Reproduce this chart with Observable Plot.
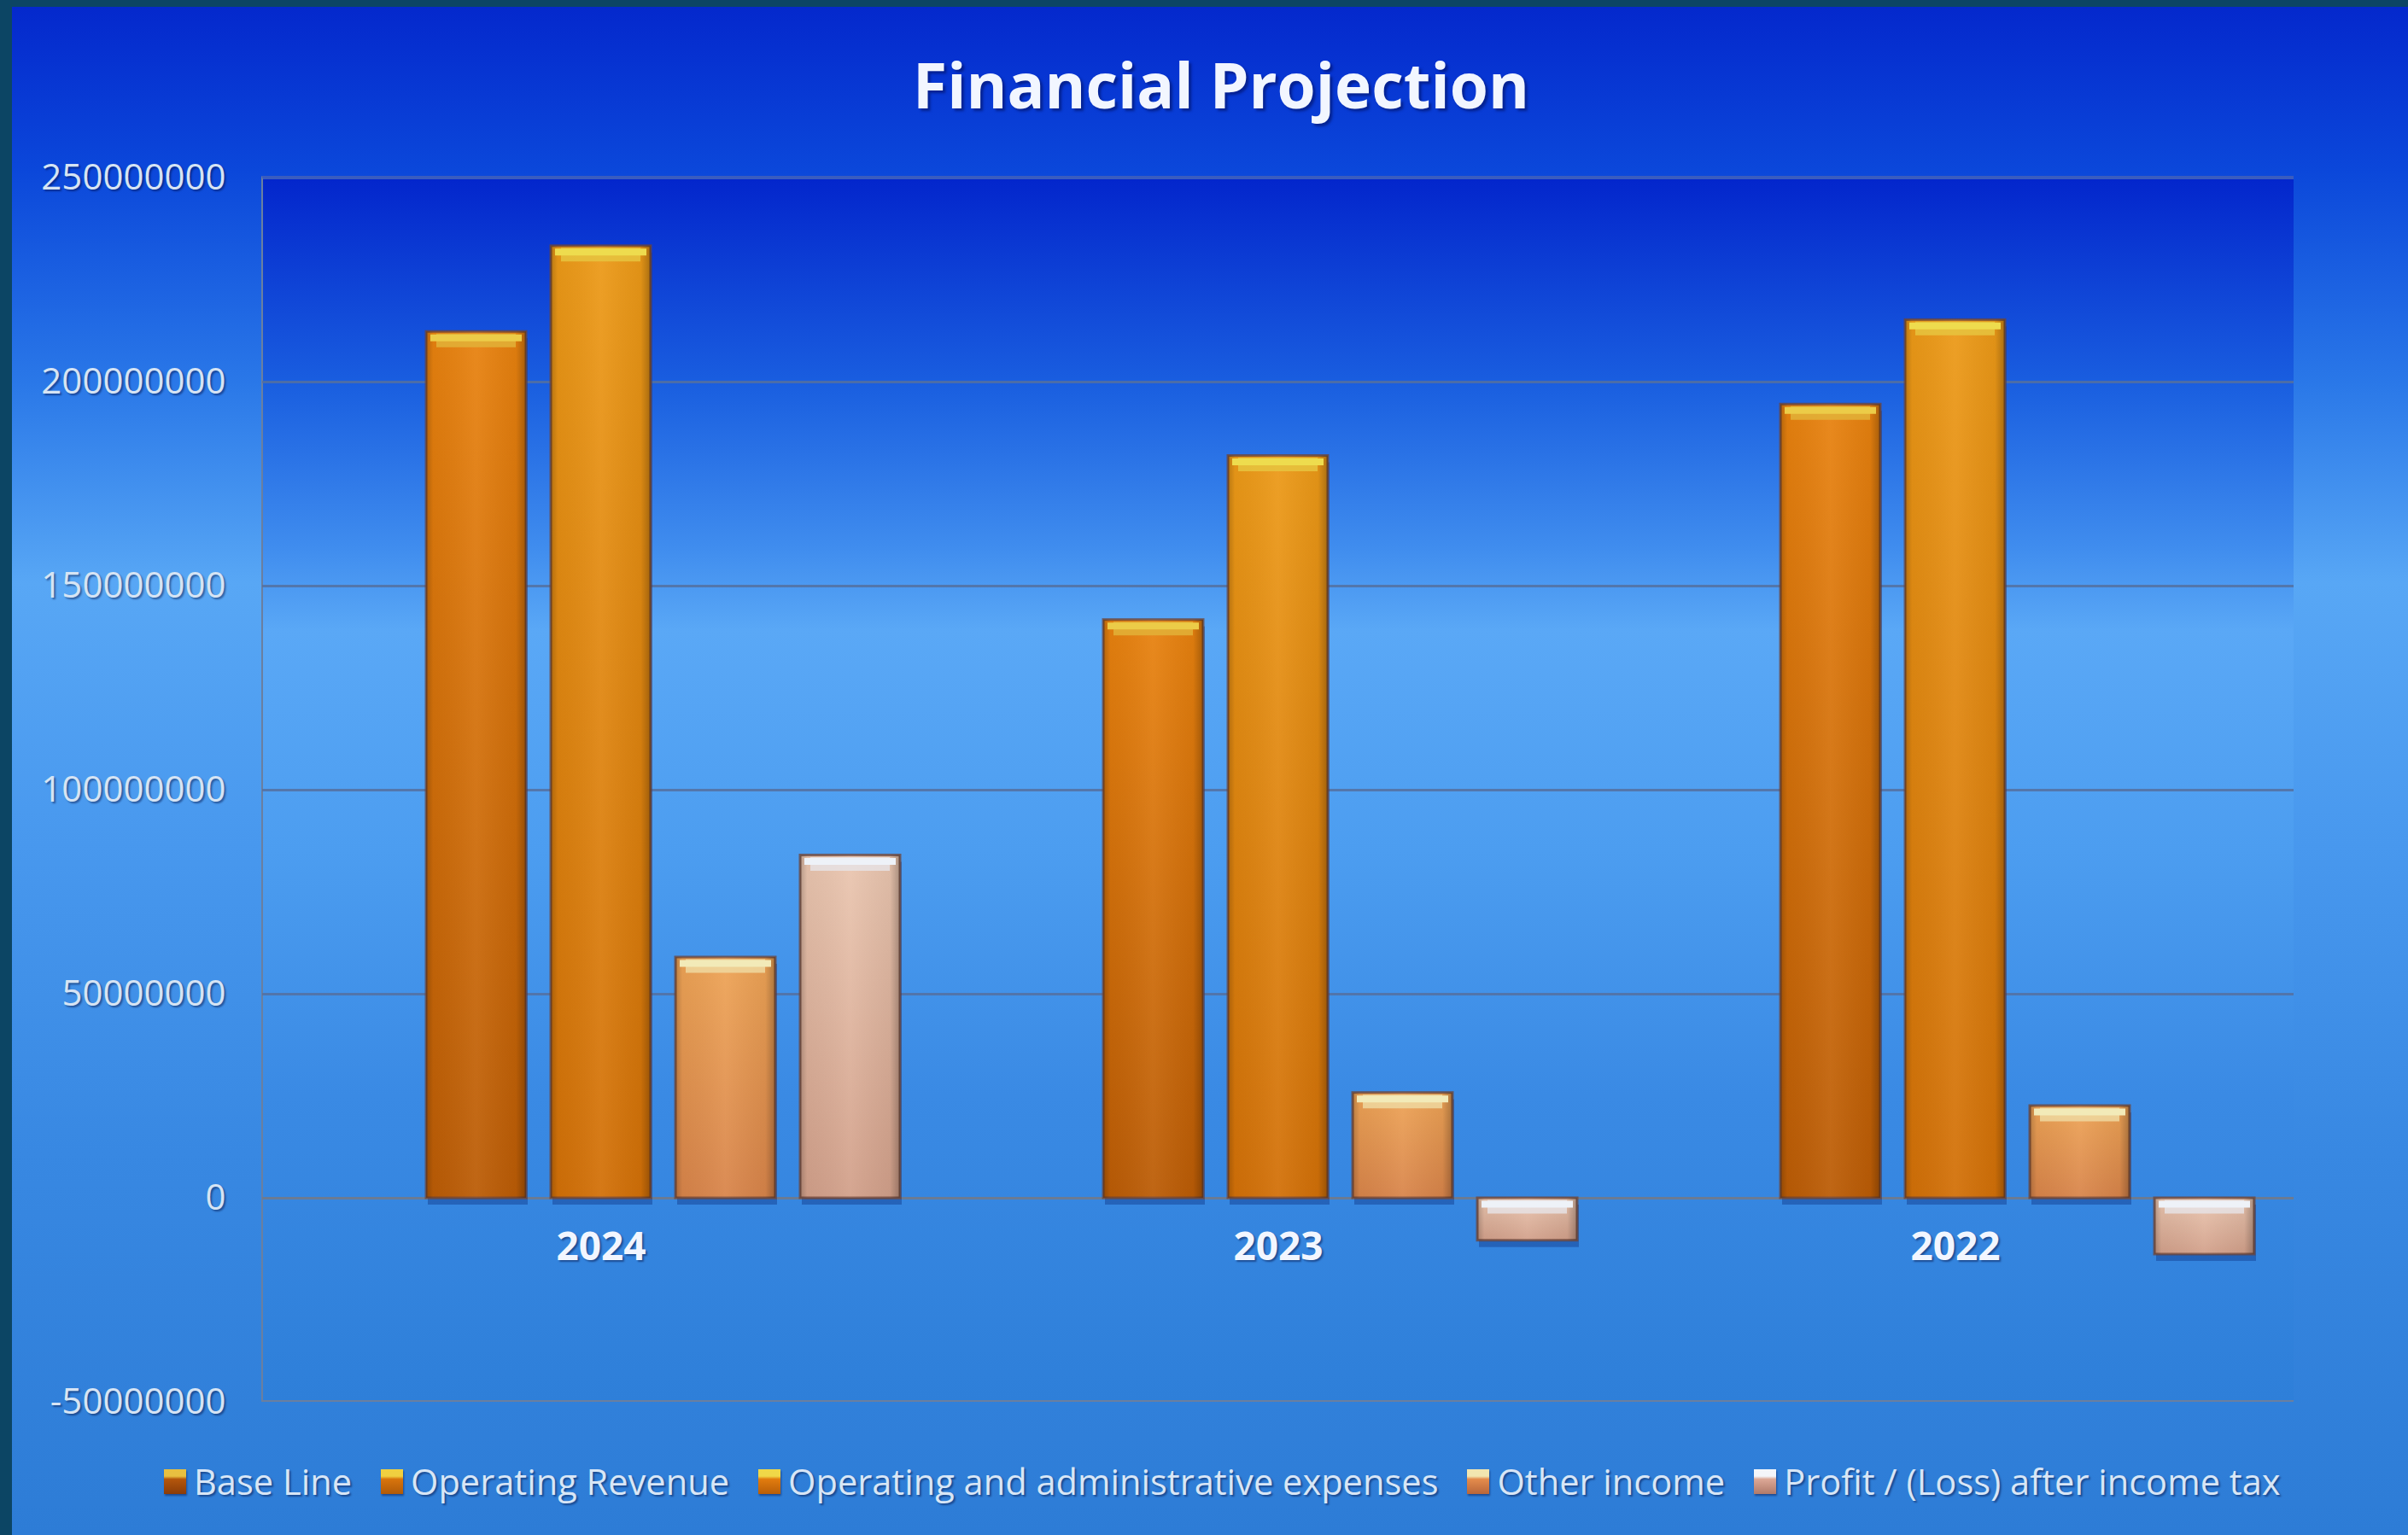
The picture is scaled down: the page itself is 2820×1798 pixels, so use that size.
<!DOCTYPE html>
<html>
<head>
<meta charset="utf-8">
<script src="https://cdn.jsdelivr.net/npm/d3@7"></script>
<script src="https://cdn.jsdelivr.net/npm/@observablehq/plot@0.6"></script>
<style>
  html, body { margin: 0; padding: 0; background: #0c4564; }
  #stage {
    position: relative; width: 2820px; height: 1798px; overflow: hidden;
    font-family: "Open Sans", "Noto Sans", sans-serif;
    background: linear-gradient(to bottom, #0427cc 0%, #0b47da 11%, #2a78e8 25%, #58a7f5 38%, #4898ee 55%, #3888e2 75%, #2d7cd6 100%);
  }
  #plotbg {
    position: absolute; left: 306px; top: 206px; width: 2380px; height: 1436px;
    background: linear-gradient(to bottom, #0326cc 0%, #1a5fe0 17%, #3f8cee 30%, #5aa8f6 37%, #4c9df0 55%, #3a8ae4 75%, #2e7fd9 100%);
    border-top: 4px solid #3a5cbf; border-left: 2px solid #6a7fa0; border-bottom: 2px solid #6a7fa0;
    box-sizing: border-box;
  }
  #chart { position: absolute; left: 0; top: 0; }
  #chart svg text { text-shadow: 2px 2px 2px rgba(0, 10, 60, 0.45); }
  #title {
    position: absolute; left: 1430px; top: 62px; transform: translateX(-50%);
    font-size: 73px; line-height: 1; font-weight: 700; color: #f2f6ff; white-space: nowrap;
    text-shadow: 3px 3px 3px rgba(0, 10, 80, 0.5);
  }
  #legend {
    position: absolute; left: 192px; top: 1715px; display: flex; align-items: center; gap: 34px;
    font-size: 41.6px; line-height: 1; color: #d8e6f6; white-space: nowrap;
    text-shadow: 2px 2px 2px rgba(0, 10, 60, 0.45);
  }
  .item { display: flex; align-items: center; }
  .swatch { width: 26px; height: 29px; margin-right: 9px; box-shadow: 1px 2px 2px rgba(0,0,50,0.4); }
  .border-top { position: absolute; left: 0; top: 0; width: 2820px; height: 8px; background: #0c4564; }
  .border-left { position: absolute; left: 0; top: 0; width: 14px; height: 1798px; background: #0c4564; }
</style>
</head>
<body>
<svg width="0" height="0" style="position:absolute">
  <defs>
    <linearGradient id="gBase" x1="0" y1="0" x2="0" y2="1">
      <stop offset="0" stop-color="#c8680c"/><stop offset="1" stop-color="#a04c06"/>
    </linearGradient>
    <linearGradient id="gRev" x1="0" y1="0" x2="0" y2="1">
      <stop offset="0" stop-color="#e8820f"/><stop offset="1" stop-color="#bb5c06"/>
    </linearGradient>
    <linearGradient id="gExp" x1="0" y1="0" x2="0" y2="1">
      <stop offset="0" stop-color="#ec9a18"/><stop offset="1" stop-color="#d27008"/>
    </linearGradient>
    <linearGradient id="gOther" x1="0" y1="0" x2="0" y2="1">
      <stop offset="0" stop-color="#eea456"/><stop offset="1" stop-color="#d8844a"/>
    </linearGradient>
    <linearGradient id="gProfit" x1="0" y1="0" x2="0" y2="1">
      <stop offset="0" stop-color="#eac6b0"/><stop offset="1" stop-color="#d2a08a"/>
    </linearGradient>
    <linearGradient id="edge" x1="0" y1="0" x2="1" y2="0">
      <stop offset="0" stop-color="#000" stop-opacity="0.22"/>
      <stop offset="0.07" stop-color="#000" stop-opacity="0.04"/>
      <stop offset="0.5" stop-color="#fff" stop-opacity="0.06"/>
      <stop offset="0.9" stop-color="#000" stop-opacity="0.05"/>
      <stop offset="1" stop-color="#000" stop-opacity="0.28"/>
    </linearGradient>
  </defs>
</svg>
<div id="stage">
  <div id="plotbg"></div>
  <div id="chart"></div>
  <div id="title">Financial Projection</div>
  <div id="legend"></div>
  <div class="border-top"></div>
  <div class="border-left"></div>
</div>
<script>
const years = ["2024", "2023", "2022"];
const series = ["Base Line", "Operating Revenue", "Operating and administrative expenses", "Other income", "Profit / (Loss) after income tax"];
const baseLine = [0, 0, 0];
const operatingRevenue = [212300000, 141700000, 194500000];
const operatingExpenses = [233300000, 181900000, 215200000];
const otherIncome = [59000000, 25800000, 22600000];
const profitAfterTax = [84000000, -10400000, -13800000];
const yTicks = [-50000000, 0, 50000000, 100000000, 150000000, 200000000, 250000000];

const seriesValues = [baseLine, operatingRevenue, operatingExpenses, otherIncome, profitAfterTax];
const gradientId = {
  "Base Line": "url(#gBase)",
  "Operating Revenue": "url(#gRev)",
  "Operating and administrative expenses": "url(#gExp)",
  "Other income": "url(#gOther)",
  "Profit / (Loss) after income tax": "url(#gProfit)"
};
const bevel = {
  "Base Line": "#e2b43a",
  "Operating Revenue": "#e2b238",
  "Operating and administrative expenses": "#e6c440",
  "Other income": "#eed8a0",
  "Profit / (Loss) after income tax": "#e6e2e4"
};
const bevelHi = {
  "Base Line": "#ecd04a",
  "Operating Revenue": "#eccc48",
  "Operating and administrative expenses": "#eedc4e",
  "Other income": "#f2eab8",
  "Profit / (Loss) after income tax": "#eef2f8"
};
const swatchCss = {
  "Base Line": "linear-gradient(to bottom, #e8c040 0%, #e8c040 28%, #b4560c 40%, #8a3c08 100%)",
  "Operating Revenue": "linear-gradient(to bottom, #f0d040 0%, #f0d040 28%, #d8740c 40%, #b05a08 100%)",
  "Operating and administrative expenses": "linear-gradient(to bottom, #f0d848 0%, #f0d848 28%, #e27c0e 40%, #b85e08 100%)",
  "Other income": "linear-gradient(to bottom, #f2e6b0 0%, #f2e6b0 28%, #e48c4c 40%, #b8663a 100%)",
  "Profit / (Loss) after income tax": "linear-gradient(to bottom, #f4f6fa 0%, #f4f6fa 28%, #dca896 40%, #b07a6a 100%)"
};

const rows = years.flatMap((year, i) =>
  series.map((s, j) => ({year, series: s, value: seriesValues[j][i]}))
);
const nonZero = rows.filter(d => d.value !== 0);

const chart = Plot.plot({
  width: 2820,
  height: 1798,
  marginTop: 208,
  marginBottom: 156,
  marginLeft: 306,
  marginRight: 134,
  style: {background: "transparent", fontFamily: "'Open Sans', 'Noto Sans', sans-serif"},
  fx: {domain: years, padding: 0, axis: null},
  x: {domain: series, paddingInner: 0.2, paddingOuter: 0.3, axis: null},
  y: {domain: [-50000000, 250000000], axis: null},
  marks: [
    Plot.ruleY(yTicks.filter(t => t !== 0 && t !== 250000000 && t !== -50000000), {stroke: "#55709f", strokeOpacity: 0.85, strokeWidth: 3}),
    Plot.ruleY([0], {stroke: "#6b7b93", strokeWidth: 3}),
    Plot.axisY({
      ticks: yTicks, tickFormat: d => String(d), tickSize: 0, tickPadding: 43, label: null,
      fontSize: 42, fill: "#d6e4f4", facetAnchor: "left"
    }),
    Plot.barY(nonZero, {fx: "year", x: "series", y: "value", fill: "#0d2f80", fillOpacity: 0.4, dy: 8, dx: 2}),
    Plot.barY(rows, {fx: "year", x: "series", y: "value",
      fill: {value: d => gradientId[d.series], scale: null},
      stroke: "#6e4438", strokeOpacity: 0.75, strokeWidth: 3}),
    Plot.barY(nonZero, {fx: "year", x: "series", y: "value", fill: "url(#edge)"}),
    Plot.tickY(nonZero, {fx: "year", x: "series", y: d => Math.max(d.value, 0),
      stroke: {value: d => bevel[d.series], scale: null}, strokeWidth: 16, dy: 10, insetLeft: 12, insetRight: 12, strokeOpacity: 0.85}),
    Plot.tickY(nonZero, {fx: "year", x: "series", y: d => Math.max(d.value, 0),
      stroke: {value: d => bevelHi[d.series], scale: null}, strokeWidth: 8, dy: 7, insetLeft: 5, insetRight: 5}),
    Plot.text(years, {fx: d => d, y: () => 0, text: d => d, dy: 58, lineAnchor: "middle",
      fontSize: 46, fontWeight: 700, fill: "#f2f6ff"})
  ]
});
document.getElementById("chart").appendChild(chart);

const legend = document.getElementById("legend");
for (const s of series) {
  const item = document.createElement("div");
  item.className = "item";
  const sw = document.createElement("div");
  sw.className = "swatch";
  sw.style.background = swatchCss[s];
  const label = document.createElement("span");
  label.textContent = s;
  item.appendChild(sw);
  item.appendChild(label);
  legend.appendChild(item);
}
</script>
</body>
</html>
